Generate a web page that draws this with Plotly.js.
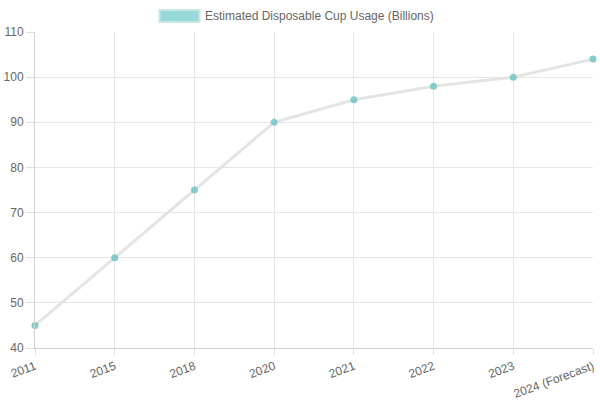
<!DOCTYPE html>
<html><head><meta charset="utf-8">
<script src="https://cdn.plot.ly/plotly-3.0.1.min.js"></script>
<style>body{margin:0}#c{width:600px;height:400px}</style>
</head><body><div id="c"></div>
<script>
const categories = ["2011","2015","2018","2020","2021","2022","2023","2024 (Forecast)"];
const usage = [45, 60, 75, 90, 95, 98, 100, 104];
const seriesName = "Estimated Disposable Cup Usage (Billions)";

const L = 35, R = 593, T = 32, B = 348;
const px = x => (x - L) / (R - L);
const py = y => (B - y) / (B - T);

const trace = {
  x: categories, y: usage, type: "scatter", mode: "lines+markers",
  line: {color: "rgba(225,225,225,0.9)", width: 3},
  marker: {color: "rgba(120,200,200,0.9)", size: 7},
  cliponaxis: false,
  showlegend: false, hoverinfo: "x+y"
};
const layout = {
  width: 600, height: 400,
  margin: {l: L, r: 600 - R, t: T, b: 400 - B},
  paper_bgcolor: "#fff", plot_bgcolor: "#fff",
  font: {family: "Liberation Sans, Arial, sans-serif", size: 12, color: "#666"},
  xaxis: {
    type: "category", range: [0, categories.length - 1],
    showgrid: true, gridcolor: "#e6e6e6", gridwidth: 1,
    showline: true, linecolor: "#d0d0d0", linewidth: 1,
    ticks: "outside", ticklen: 6, tickcolor: "#e0e0e0",
    tickangle: -20, tickfont: {size: 12, color: "#666"}, zeroline: false
  },
  yaxis: {
    range: [40, 110], dtick: 10,
    showgrid: true, gridcolor: "#e6e6e6", gridwidth: 1,
    showline: true, linecolor: "#d0d0d0", linewidth: 1,
    ticks: "outside", ticklen: 8, tickcolor: "#e0e0e0",
    tickfont: {size: 12, color: "#666"}, zeroline: false
  },
  shapes: [{
    type: "rect", xref: "paper", yref: "paper",
    x0: px(159.5), x1: px(199.5), y0: py(22), y1: py(10),
    fillcolor: "rgba(145,215,215,0.95)", line: {color: "rgba(200,230,230,1)", width: 2}
  }],
  annotations: [{
    xref: "paper", yref: "paper", x: px(203), y: py(16),
    xanchor: "left", yanchor: "middle", showarrow: false,
    text: seriesName, font: {size: 12, color: "#666"}
  }]
};
Plotly.newPlot("c", [trace], layout, {displayModeBar: false, staticPlot: true});
</script></body></html>
